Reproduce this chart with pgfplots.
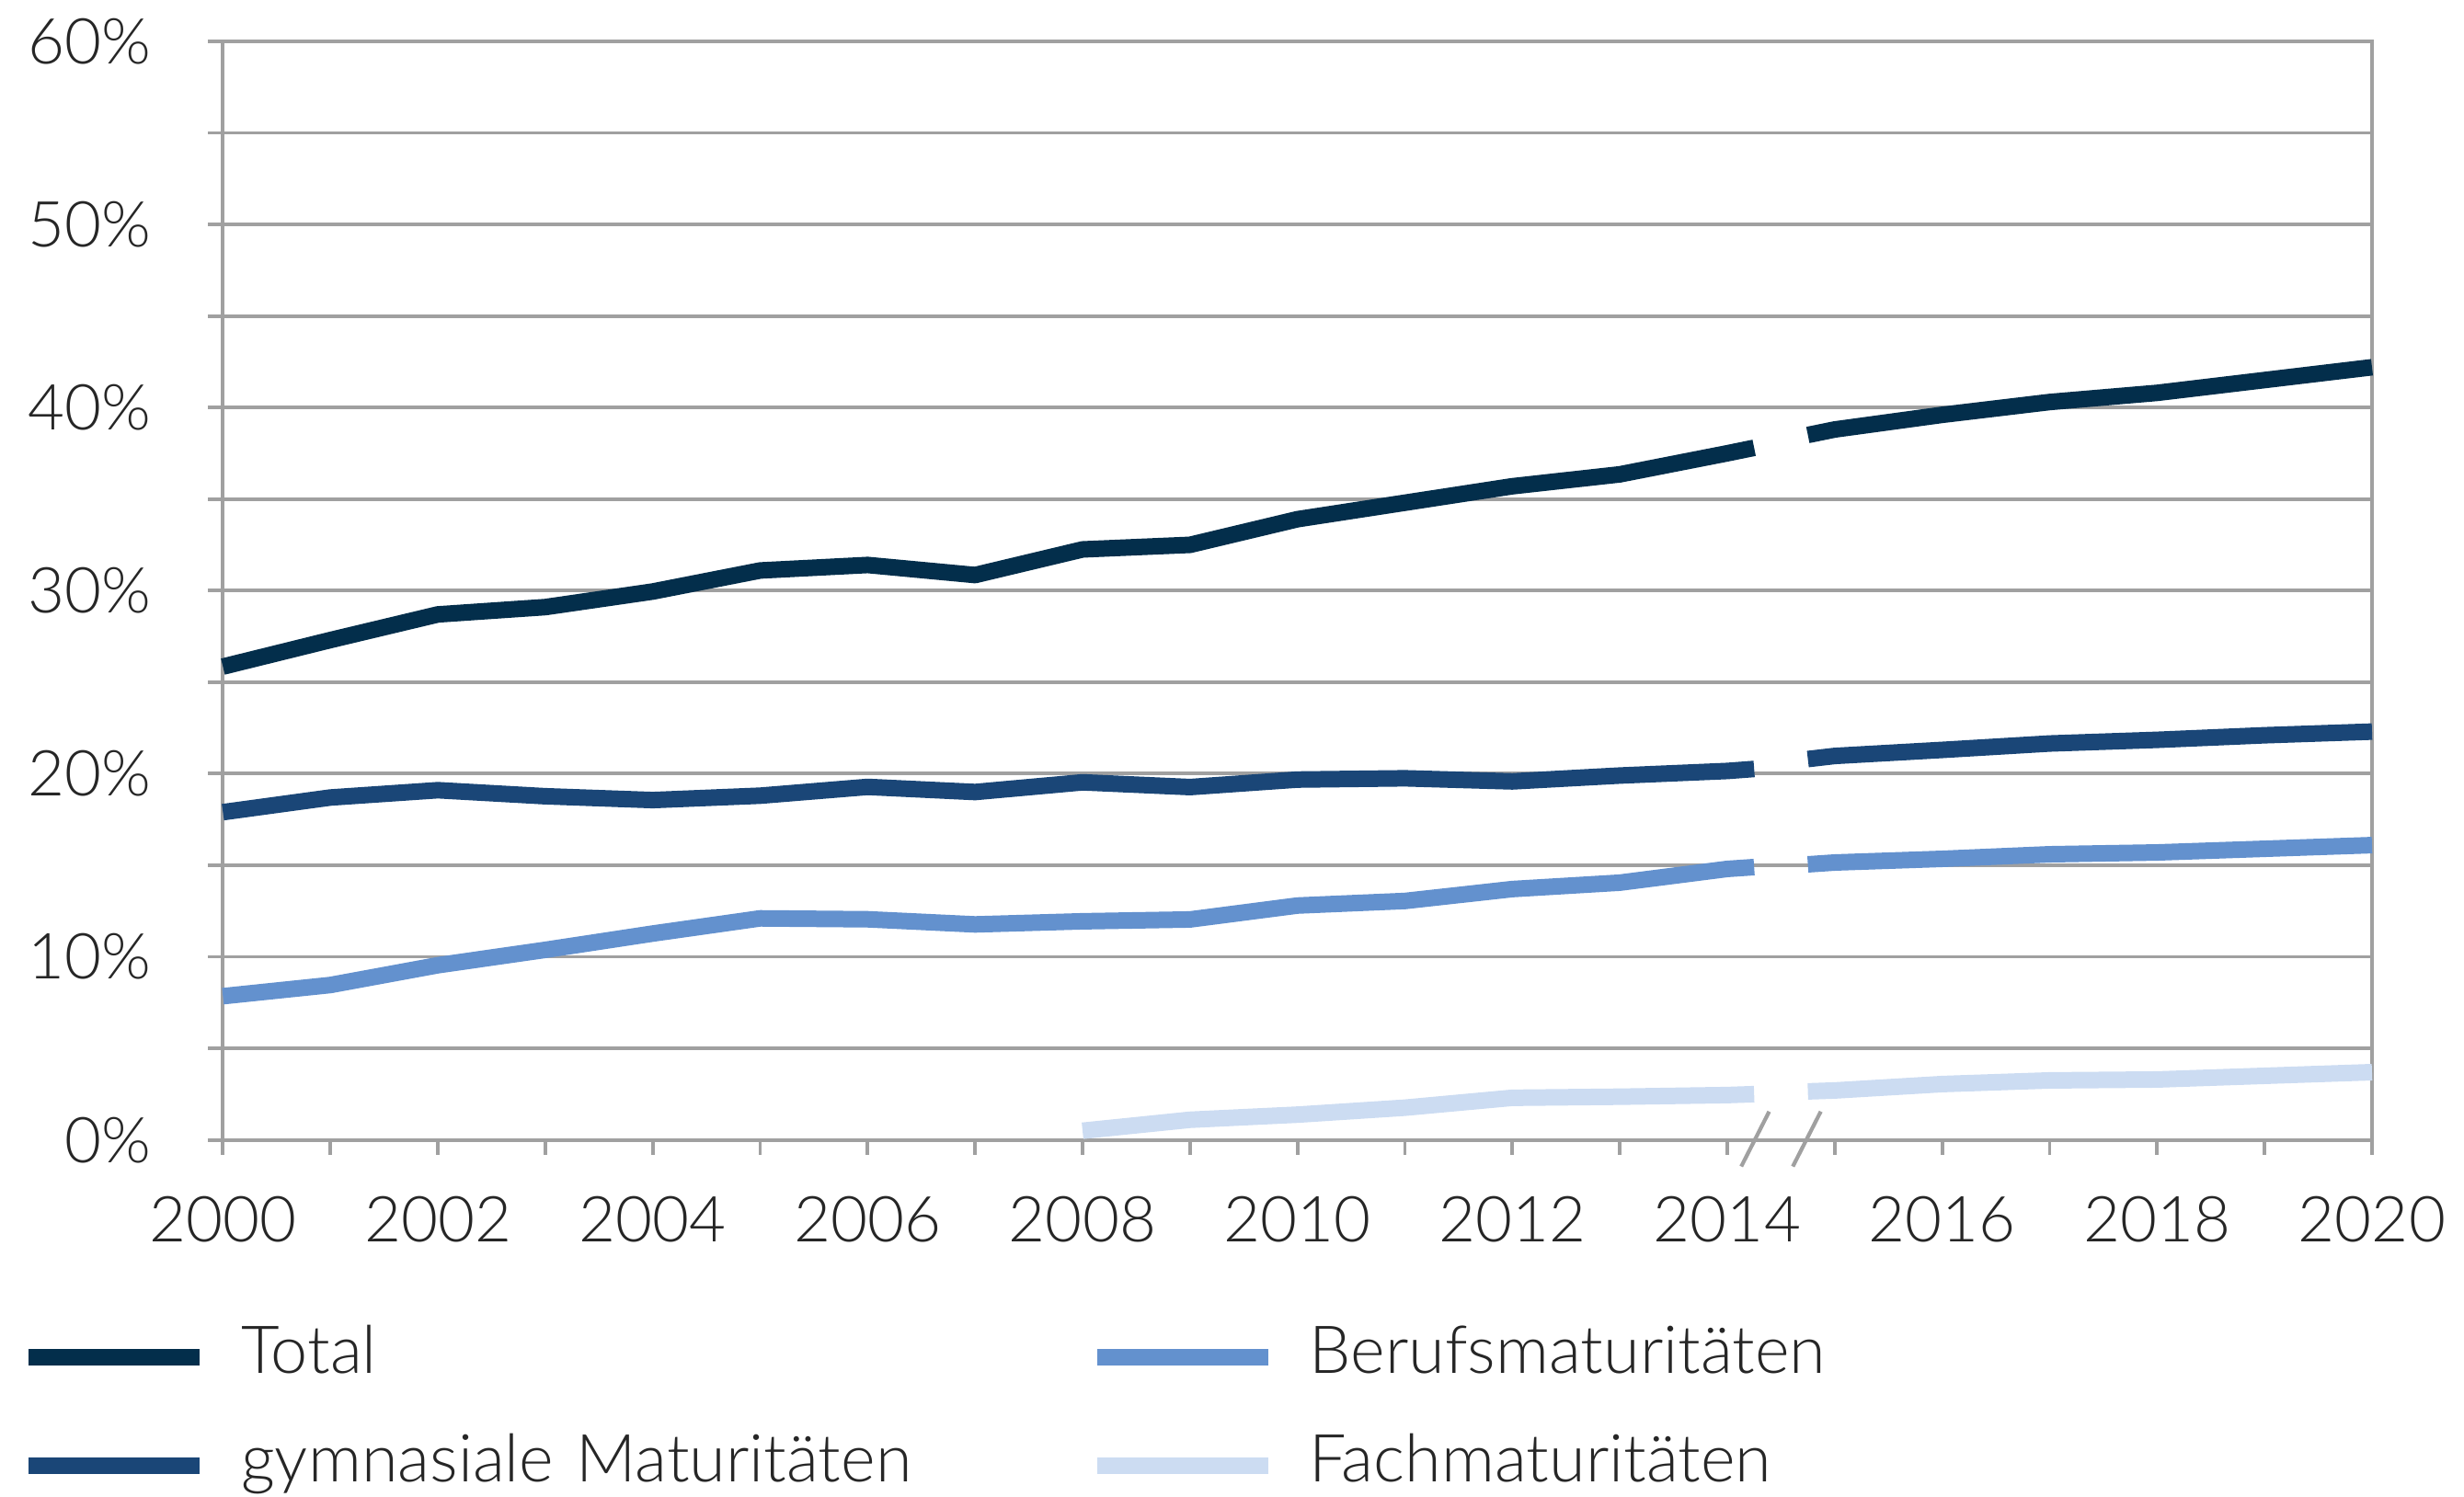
\documentclass[border=0pt]{standalone}
\usepackage{fontspec}
\setmainfont{Lato Light}
\usepackage{pgfplots}
\pgfplotsset{compat=1.18}

\definecolor{cTotal}{HTML}{032E4B}
\definecolor{cGym}{HTML}{1A4677}
\definecolor{cBeruf}{HTML}{6391CE}
\definecolor{cFach}{HTML}{CCDCF2}
\definecolor{gridgray}{HTML}{A0A0A0}
\definecolor{textgray}{HTML}{262626}

\begin{document}
\begin{tikzpicture}
\path (-14.2mm,-22.7mm) rectangle (142.6mm,72.6mm);
\begin{axis}[
  at={(0,0)}, anchor=south west,
  width=136.9mm, height=70mm, scale only axis,
  xmin=2000, xmax=2020, ymin=0, ymax=60,
  clip=false,
  xtick={2000,2002,...,2020},
  xticklabels={2000,2002,2004,2006,2008,2010,2012,2014,2016,2018,2020},
  minor xtick={2001,2003,...,2019},
  ytick={0,10,...,60},
  minor ytick={5,15,...,55},
  yticklabels={0\%,10\%,20\%,30\%,40\%,50\%,60\%},
  ymajorgrids, yminorgrids,
  grid style={gridgray, line width=0.65pt},
  minor grid style={gridgray, line width=0.65pt},
  axis line style={gridgray, line width=0.65pt},
  tick style={gridgray, line width=0.65pt},
  tick align=outside,
  major tick length=0.95mm, minor tick length=0.95mm,
  xtick pos=bottom, ytick pos=left,
  tick label style={font=\fontsize{11.5}{13}\selectfont, text=textgray},
  yticklabel style={xshift=-2.4mm},
  xticklabel style={yshift=-1.4mm},
  legend columns=2,
  legend image code/.code={\draw[#1, line width=3pt] (0mm,0mm) -- (10.9mm,0mm);},
  legend style={draw=none, fill=none, inner sep=0pt, outer sep=0pt,
    at={(axis description cs:-0.0942,-0.170)}, anchor=north west,
    row sep=3mm,
    nodes={inner sep=0pt, text width=50mm, align=left, text height=3mm, text depth=0.9mm,
      font=\fontsize{12}{14}\selectfont, text=textgray},
    /tikz/every odd column/.append style={column sep=2.1mm},
    /tikz/every even column/.append style={column sep=4mm}},
]
% Total
\addplot[cTotal, line width=3pt, line join=round, forget plot] coordinates {
  (2000,25.85) (2001,27.3) (2002,28.7) (2003,29.1) (2004,29.95) (2005,31.1)
  (2006,31.4) (2007,30.85) (2008,32.25) (2009,32.5) (2010,33.9) (2011,34.8)
  (2012,35.7) (2013,36.35) (2014,37.5) (2014.25,37.8)
};
\addplot[cTotal, line width=3pt, line join=round, forget plot] coordinates {
  (2014.75,38.5) (2015,38.8) (2016,39.6) (2017,40.3) (2018,40.8) (2019,41.5) (2020,42.2)
};
% gymnasiale Maturitaeten
\addplot[cGym, line width=3pt, line join=round, forget plot] coordinates {
  (2000,17.9) (2001,18.7) (2002,19.1) (2003,18.77) (2004,18.56) (2005,18.8)
  (2006,19.28) (2007,19.0) (2008,19.53) (2009,19.27) (2010,19.68) (2011,19.75)
  (2012,19.58) (2013,19.9) (2014,20.15) (2014.25,20.26)
};
\addplot[cGym, line width=3pt, line join=round, forget plot] coordinates {
  (2014.75,20.8) (2015,20.97) (2016,21.3) (2017,21.65) (2018,21.85) (2019,22.1) (2020,22.3)
};
% Berufsmaturitaeten
\addplot[cBeruf, line width=3pt, line join=round, forget plot] coordinates {
  (2000,7.85) (2001,8.46) (2002,9.54) (2003,10.38) (2004,11.27) (2005,12.1)
  (2006,12.05) (2007,11.77) (2008,11.94) (2009,12.04) (2010,12.8) (2011,13.05)
  (2012,13.7) (2013,14.05) (2014,14.8) (2014.25,14.9)
};
\addplot[cBeruf, line width=3pt, line join=round, forget plot] coordinates {
  (2014.75,15.05) (2015,15.15) (2016,15.35) (2017,15.6) (2018,15.7) (2019,15.9) (2020,16.1)
};
% Fachmaturitaeten
\addplot[cFach, line width=3pt, line join=round, forget plot] coordinates {
  (2008,0.5) (2009,1.1) (2010,1.38) (2011,1.76) (2012,2.3) (2013,2.36)
  (2014,2.45) (2014.25,2.5)
};
\addplot[cFach, line width=3pt, line join=round, forget plot] coordinates {
  (2014.75,2.65) (2015,2.7) (2016,3.05) (2017,3.25) (2018,3.3) (2019,3.5) (2020,3.7)
};
% break marks
\draw[gridgray, line width=0.7pt] (axis cs:2014.13,-1.45) -- (axis cs:2014.39,1.55);
\draw[gridgray, line width=0.7pt] (axis cs:2014.61,-1.45) -- (axis cs:2014.87,1.55);
% legend, row by row
\addlegendimage{cTotal}\addlegendentry{Total}
\addlegendimage{cBeruf}\addlegendentry{Berufsmaturitäten}
\addlegendimage{cGym}\addlegendentry{gymnasiale Maturitäten}
\addlegendimage{cFach}\addlegendentry{Fachmaturitäten}
\end{axis}
\end{tikzpicture}
\end{document}
